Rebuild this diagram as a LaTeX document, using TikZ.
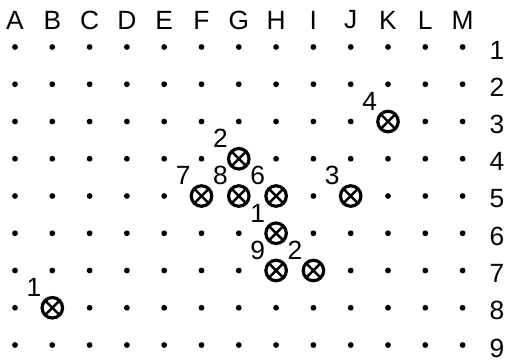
\documentclass[tikz,border=0pt]{standalone}
\usepackage{fontspec}
\setmainfont{Liberation Sans}
\usetikzlibrary{positioning}

\begin{document}
\begin{tikzpicture}[
  x=0.02cm, y=-0.02cm,
  dot/.style={circle, fill=black, inner sep=0pt, minimum size=3.3pt},
  marker/.style={
    circle, draw=black, fill=white, line width=1.8pt,
    inner sep=0pt, minimum size=0.41cm,
    path picture={\draw[line width=1.4pt]
      (path picture bounding box.north west) -- (path picture bounding box.south east)
      (path picture bounding box.north east) -- (path picture bounding box.south west);}
  },
  lbl/.style={font=\fontsize{15}{17}\selectfont, inner sep=1pt},
  head/.style={font=\fontsize{15}{17}\selectfont, inner sep=0pt}
]
\useasboundingbox (0,0) rectangle (510,360);

% grid of dots
\foreach \c in {1,...,13}
  \foreach \r in {1,...,9}
    \node[dot] (d-\c-\r) at ({15+37.3*(\c-1)}, {47+37.25*(\r-1)}) {};

% column and row headings
\foreach \c/\t in {1/A,2/B,3/C,4/D,5/E,6/F,7/G,8/H,9/I,10/J,11/K,12/L,13/M}
  \node[head] (col-\c) at ({15+37.3*(\c-1)}, 20) {\t};
\foreach \r in {1,...,9}
  \node[head] (row-\r) at (497, {50+37.25*(\r-1)}) {\r};

% stones with their move numbers
\foreach \c/\r/\t in {11/3/4, 7/4/2, 6/5/7, 7/5/8, 8/5/6, 10/5/3, 8/6/1, 8/7/9, 9/7/2, 2/8/1}
  \node[marker, label={[lbl, label distance=0.5pt]135:\t}] (m-\c-\r) at (d-\c-\r) {};
\end{tikzpicture}
\end{document}
